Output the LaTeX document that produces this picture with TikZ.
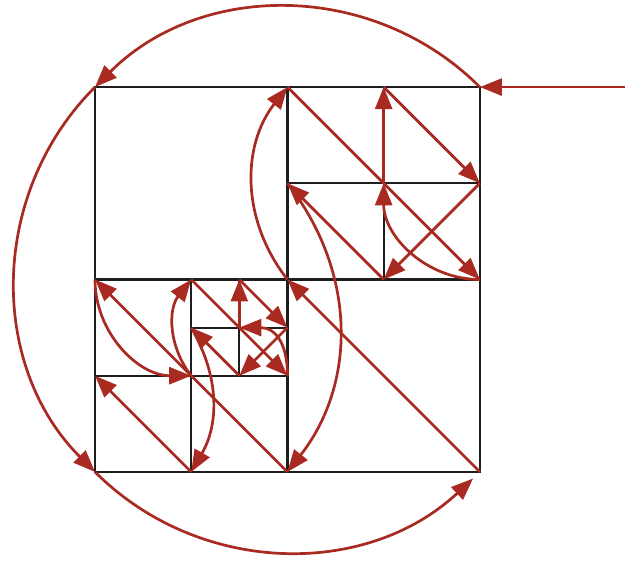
\documentclass[tikz,border=0pt]{standalone}
\usetikzlibrary{arrows.meta}
\definecolor{brickred}{RGB}{168,42,32}
\definecolor{inkline}{RGB}{30,30,30}

\begin{document}
\begin{tikzpicture}[
	gridline/.style={line width=1.3pt, color=inkline},
	flow/.style={line width=1.6pt, color=brickred, -{Triangle[length=13pt,width=10pt]}}
]
	\useasboundingbox (-1.975,-1.85) rectangle (11.10,9.81);
	% corners and cut points of the squares
	\coordinate (c00) at (0,0);
	\coordinate (c80) at (8,0);
	\coordinate (c88) at (8,8);
	\coordinate (c08) at (0,8);
	\coordinate (c44) at (4,4);
	\coordinate (c48) at (4,8);
	\coordinate (c84) at (8,4);
	\coordinate (c66) at (6,6);
	\coordinate (c68) at (6,8);
	\coordinate (c86) at (8,6);
	\coordinate (c64) at (6,4);
	\coordinate (c46) at (4,6);
	\coordinate (c40) at (4,0);
	\coordinate (c04) at (0,4);
	\coordinate (c22) at (2,2);
	\coordinate (c24) at (2,4);
	\coordinate (c42) at (4,2);
	\coordinate (c33) at (3,3);
	\coordinate (c34) at (3,4);
	\coordinate (c43) at (4,3);
	\coordinate (c32) at (3,2);
	\coordinate (c23) at (2,3);
	\coordinate (c20) at (2,0);
	\coordinate (c02) at (0,2);
	\coordinate (entry) at (11.02,8);

	\draw[gridline] (c00) rectangle (c88);
	\draw[gridline] (c40) -- (c48);
	\draw[gridline] (c04) -- (c84);
	\draw[gridline] (c46) -- (c86);
	\draw[gridline] (c64) -- (c68);
	\draw[gridline] (c20) -- (c24);
	\draw[gridline] (c02) -- (c42);
	\draw[gridline] (c23) -- (c43);
	\draw[gridline] (c32) -- (c34);

	% the big circle round the corners
	\draw[flow] (entry) -- (c88);
	\draw[flow] (c88) arc[start angle=45, end angle=135, radius=5.657];
	\draw[flow] (c08) arc[start angle=135, end angle=225, radius=5.657];
	\draw[flow] (c00) arc[start angle=225, end angle=313, radius=5.657];

	\draw[flow] (c80) -- (c44);
	\draw[flow] (c44) to[bend left=38] (c48);
	\draw[flow] (c48) -- (c84);
	\draw[flow] (c84) to[out=180, in=-90] (c66);
	\draw[flow] (c66) -- (c68);
	\draw[flow] (c68) -- (c86);
	\draw[flow] (c86) -- (c64);
	\draw[flow] (c64) -- (c46);
	\draw[flow] (c46) to[bend left=38] (c40);

	% lower left quarter
	\draw[flow] (c40) -- (c04);
	\draw[flow] (c04) to[out=-90, in=180] (c22);
	\draw[flow] (c22) to[bend left=38] (c24);
	\draw[flow] (c24) -- (c42);
	\draw[flow] (c42) to[out=90, in=0, looseness=1.3] (c33);
	\draw[flow] (c33) -- (c34);
	\draw[flow] (c34) -- (c43);
	\draw[flow] (c43) -- (c32);
	\draw[flow] (c32) -- (c23);
	\draw[flow] (c23) to[bend left=30] (c20);
	\draw[flow] (c20) -- (c02);
\end{tikzpicture}
\end{document}
